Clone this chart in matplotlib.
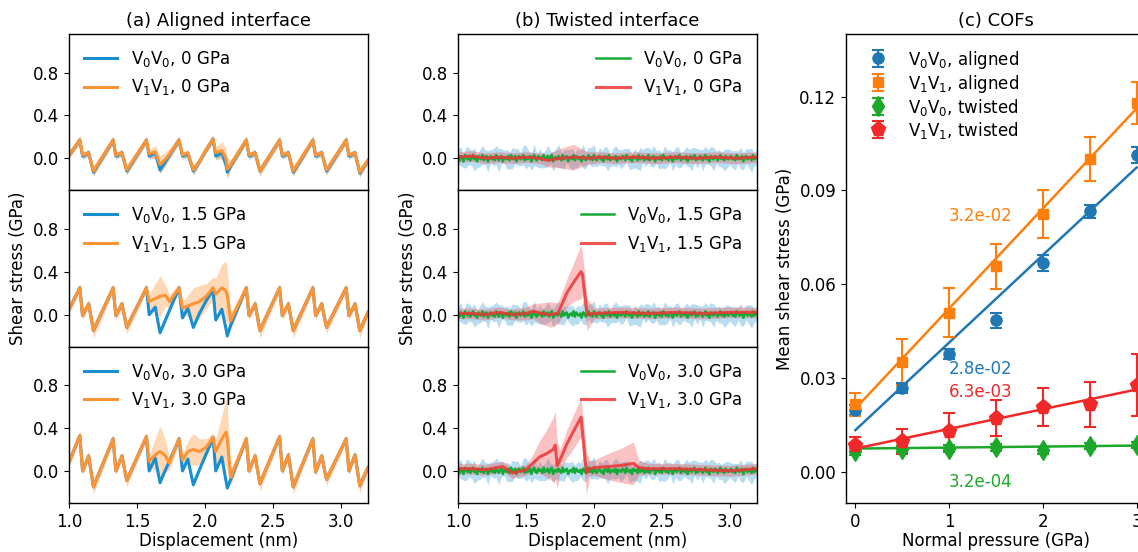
import numpy as np
import matplotlib.pyplot as plt

plt.rcParams["font.size"] = 12
plt.rcParams["axes.linewidth"] = 1.0

# ---------------- (a) aligned interface: trace vertices ----------------
disp_a = [1.00, 1.08, 1.10, 1.145, 1.18,
          1.325, 1.345, 1.39, 1.425,
          1.57, 1.59, 1.635, 1.67, 1.71, 1.74,
          1.81, 1.835, 1.875, 1.915, 1.96, 2.01,
          2.06, 2.08, 2.125, 2.155, 2.165, 2.19,
          2.305, 2.325, 2.37, 2.405,
          2.55, 2.57, 2.615, 2.65,
          2.795, 2.815, 2.86, 2.895,
          3.04, 3.06, 3.105, 3.14, 3.20]

pressure_labels = ["0", "1.5", "3.0"]

# V0V0 mean shear stress (GPa)
a_v0_p0 = [0.03, 0.17, 0.02, 0.05, -0.13,
           0.17, 0.02, 0.05, -0.12,
           0.17, 0.02, 0.05, -0.11, -0.03, 0.03,
           0.17, 0.02, 0.04, -0.12, -0.03, 0.08,
           0.18, 0.02, 0.05, -0.06, -0.13, -0.07,
           0.17, 0.02, 0.05, -0.12,
           0.17, 0.02, 0.05, -0.13,
           0.17, 0.02, 0.05, -0.12,
           0.17, 0.02, 0.05, -0.14, -0.02]
a_v0_p15 = [0.05, 0.25, -0.01, 0.10, -0.15,
            0.25, -0.01, 0.10, -0.12,
            0.25, 0.00, 0.07, -0.17, -0.05, 0.04,
            0.25, -0.03, 0.06, -0.12, 0.01, 0.13,
            0.23, -0.05, 0.05, -0.13, -0.20, -0.10,
            0.25, -0.01, 0.10, -0.15,
            0.25, -0.01, 0.10, -0.15,
            0.25, -0.01, 0.10, -0.12,
            0.25, -0.01, 0.10, -0.15, 0.02]
a_v0_p30 = [0.08, 0.33, 0.00, 0.14, -0.15,
            0.30, 0.00, 0.14, -0.09,
            0.32, 0.00, 0.12, -0.11, 0.01, 0.09,
            0.30, 0.00, 0.11, -0.13, 0.01, 0.16,
            0.31, 0.00, 0.13, -0.09, -0.16, -0.08,
            0.30, 0.00, 0.14, -0.12,
            0.32, 0.00, 0.15, -0.15,
            0.30, -0.01, 0.14, -0.08,
            0.30, 0.00, 0.15, -0.14, 0.03]
a_v0_std = [0.03, 0.02, 0.02]

# V1V1 mean shear stress (GPa) and its std
a_v1_p0 = [0.03, 0.17, 0.03, 0.05, -0.12,
           0.17, 0.03, 0.05, -0.11,
           0.17, 0.04, 0.06, -0.06, -0.01, 0.04,
           0.17, 0.03, 0.05, -0.11, -0.03, 0.08,
           0.18, 0.05, 0.07, 0.00, -0.10, -0.06,
           0.17, 0.03, 0.05, -0.12,
           0.17, 0.03, 0.05, -0.12,
           0.17, 0.03, 0.05, -0.11,
           0.17, 0.03, 0.05, -0.13, -0.02]
a_v1_p15 = [0.05, 0.25, -0.01, 0.10, -0.15,
            0.25, -0.01, 0.10, -0.12,
            0.25, 0.12, 0.15, 0.17, 0.18, 0.12,
            0.25, 0.06, 0.08, 0.10, 0.12, 0.17,
            0.25, 0.19, 0.25, 0.22, 0.18, -0.06,
            0.25, -0.01, 0.10, -0.15,
            0.25, -0.01, 0.10, -0.15,
            0.25, -0.01, 0.10, -0.12,
            0.25, -0.01, 0.10, -0.15, 0.02]
a_v1_p30 = [0.08, 0.33, 0.00, 0.14, -0.15,
            0.30, 0.00, 0.14, -0.09,
            0.32, 0.09, 0.15, 0.18, 0.14, 0.07,
            0.30, 0.10, 0.18, 0.20, 0.18, 0.22,
            0.31, 0.18, 0.30, 0.36, 0.30, -0.06,
            0.30, 0.00, 0.14, -0.12,
            0.32, 0.00, 0.15, -0.15,
            0.30, -0.01, 0.14, -0.08,
            0.30, 0.00, 0.15, -0.14, 0.03]
a_v1_std_p0 = [0.03, 0.04, 0.03, 0.03, 0.05,
               0.04, 0.03, 0.03, 0.05,
               0.04, 0.04, 0.06, 0.08, 0.07, 0.05,
               0.04, 0.03, 0.03, 0.05, 0.03, 0.03,
               0.04, 0.06, 0.08, 0.10, 0.10, 0.05,
               0.04, 0.03, 0.03, 0.05,
               0.04, 0.03, 0.03, 0.05,
               0.04, 0.03, 0.03, 0.05,
               0.04, 0.03, 0.03, 0.05, 0.03]
a_v1_std_p15 = [0.04, 0.04, 0.04, 0.04, 0.07,
                0.04, 0.04, 0.04, 0.06,
                0.04, 0.06, 0.14, 0.19, 0.10, 0.06,
                0.04, 0.06, 0.10, 0.15, 0.15, 0.12,
                0.10, 0.15, 0.22, 0.28, 0.25, 0.08,
                0.04, 0.04, 0.04, 0.07,
                0.04, 0.04, 0.04, 0.07,
                0.04, 0.04, 0.04, 0.06,
                0.04, 0.04, 0.04, 0.07, 0.04]
a_v1_std_p30 = [0.04, 0.04, 0.04, 0.04, 0.07,
                0.04, 0.04, 0.04, 0.06,
                0.04, 0.06, 0.15, 0.24, 0.15, 0.06,
                0.04, 0.05, 0.10, 0.15, 0.12, 0.08,
                0.05, 0.12, 0.22, 0.31, 0.30, 0.08,
                0.04, 0.04, 0.04, 0.07,
                0.04, 0.04, 0.04, 0.07,
                0.04, 0.04, 0.04, 0.06,
                0.04, 0.04, 0.04, 0.07, 0.04]

# ---------------- (b) twisted interface ----------------
# V0V0 mean (units of 0.01 GPa), sampled every 0.01 nm from 1.0 to 3.2
b_v0_mean = [1, -2, 2, 0, -3, 3, 1, -1, 2, -2, 0, 3, -1, 1, -3, 2, 0, -1, 3, -2,
             1, 2, -3, 0, 2, -1, 1, -2, 3, 0, -2, 1, 2, -3, 1, 0, -1, 2, -2, 3,
             0, -1, 2, -3, 1, 2, -1, 0, 3, -2, 1, -1, 0, 2, -3, 1, 3, -1, -2, 2,
             0, 1, -2, 3, -1, 0, 2, -2, 1, 3, -3, 0, 1, -1, 2, 0, -2, 3, -1, 1,
             2, -3, 0, 1, -1, 3, -2, 2, 0, -1, 1, -3, 2, 1, -2, 0, 3, -1, 1, -2,
             3, 0, -2, 1, 2, -1, 0, -3, 2, 1, -1, 3, -2, 0, 1, -1, 2, -3, 1, 0,
             -1, 2, 1, -2, 3, 0, -1, 1, -3, 2, 0, 1, -2, 3, -1, 0, 2, -2, 1, -1,
             3, -2, 0, 1, 2, -3, 1, 0, -1, 2, -2, 3, 1, -1, 0, -2, 2, 1, -3, 0,
             2, -1, 1, 3, -2, 0, 1, -1, 2, -3, 0, 2, -1, 1, 3, -2, 0, -1, 2, 1,
             -2, 0, 3, -1, 1, -3, 2, 0, -1, 2, 1, -2, 0, 3, -1, 1, -2, 2, 0, -1,
             1, 2, -1, 0, -2, 3, 1, -1, 0, 2, -3, 1, 2, -1, 0, 1, -2, 3, -1, 0,
             1]
# V0V0 std (units of 0.01 GPa), every 0.02 nm
b_v0_std = [7, 9, 6, 10, 8, 7, 11, 6, 8, 9, 7, 10, 6, 8, 9, 11, 7, 6, 9, 8,
            10, 7, 8, 6, 9, 11, 7, 8, 10, 6, 9, 7, 8, 10, 6, 9, 8, 11, 7, 9,
            6, 8, 10, 7, 9, 6, 11, 8, 7, 9, 10, 6, 8, 7, 9, 11, 6, 8, 10, 7,
            9, 8, 6, 10, 7, 9, 8, 11, 6, 9, 7, 8, 10, 6, 9, 7, 11, 8, 6, 9,
            8, 10, 7, 6, 9, 8, 11, 7, 9, 6, 10, 8, 7, 9, 11, 6, 8, 7, 10, 9,
            7, 8, 9, 6, 10, 8, 7, 9, 11, 6, 8]

# V1V1 mean and std (GPa)
b_v1_x_p0 = [1.0, 1.1, 1.2, 1.3, 1.4, 1.5, 1.6, 1.66, 1.75, 1.85, 1.95, 2.05,
             2.15, 2.3, 2.45, 2.6, 2.75, 2.9, 3.05, 3.2]
b_v1_p0 = [0.01, 0.02, 0.00, 0.01, 0.00, 0.01, 0.00, -0.02, 0.00, 0.01, 0.00, 0.01,
           0.00, 0.01, 0.00, 0.01, 0.00, 0.01, 0.00, 0.01]
b_v1_std_p0 = [0.05, 0.05, 0.05, 0.05, 0.05, 0.05, 0.05, 0.06, 0.09, 0.12, 0.06, 0.05,
               0.05, 0.05, 0.05, 0.05, 0.05, 0.05, 0.05, 0.05]

b_v1_x_p15 = [1.0, 1.1, 1.2, 1.3, 1.4, 1.5, 1.55, 1.62, 1.68, 1.735, 1.8, 1.85,
              1.905, 1.915, 1.95, 2.0, 2.2, 2.4, 2.6, 2.8, 3.0, 3.2]
b_v1_p15 = [0.01, 0.01, 0.00, 0.02, 0.00, 0.01, 0.03, 0.01, 0.00, 0.01, 0.20, 0.30,
            0.40, 0.38, 0.00, 0.01, 0.02, 0.01, 0.02, 0.01, 0.02, 0.02]
b_v1_std_p15 = [0.05, 0.05, 0.05, 0.05, 0.05, 0.06, 0.07, 0.10, 0.12, 0.10, 0.13, 0.18,
                0.25, 0.20, 0.15, 0.05, 0.05, 0.05, 0.05, 0.05, 0.05, 0.05]

b_v1_x_p30 = [1.0, 1.1, 1.2, 1.33, 1.4, 1.5, 1.55, 1.6, 1.65, 1.7, 1.715, 1.73,
              1.75, 1.8, 1.85, 1.905, 1.945, 1.97, 2.0, 2.1, 2.2, 2.29, 2.33,
              2.4, 2.6, 2.8, 3.0, 3.2]
b_v1_p30 = [0.02, 0.02, 0.01, 0.04, -0.02, 0.01, 0.07, 0.13, 0.16, 0.20, 0.24, 0.05,
            0.10, 0.25, 0.37, 0.50, -0.02, 0.02, 0.03, 0.04, 0.05, 0.07, 0.03,
            0.02, 0.02, 0.01, 0.00, 0.02]
b_v1_std_p30 = [0.05, 0.05, 0.05, 0.05, 0.05, 0.05, 0.08, 0.15, 0.22, 0.30, 0.32, 0.22,
                0.10, 0.13, 0.16, 0.18, 0.20, 0.07, 0.07, 0.12, 0.16, 0.20, 0.07,
                0.05, 0.05, 0.05, 0.05, 0.05]

# ---------------- (c) COFs ----------------
pressure_c = [0, 0.5, 1.0, 1.5, 2.0, 2.5, 3.0]
c_v0_aligned = [0.0197, 0.0268, 0.0375, 0.0484, 0.0667, 0.0833, 0.1012]
c_v0_aligned_err = [0.0015, 0.0016, 0.0016, 0.0024, 0.0025, 0.0021, 0.0026]
c_v1_aligned = [0.0215, 0.0351, 0.0509, 0.0657, 0.0824, 0.0999, 0.1180]
c_v1_aligned_err = [0.0037, 0.0075, 0.0078, 0.0072, 0.0077, 0.0070, 0.0067]
c_v0_twisted = [0.0065, 0.0072, 0.0074, 0.0078, 0.0068, 0.0082, 0.0085]
c_v0_twisted_err = [0.0012, 0.0010, 0.0012, 0.0012, 0.0012, 0.0010, 0.0010]
c_v1_twisted = [0.0087, 0.0097, 0.0129, 0.0172, 0.0206, 0.0215, 0.0277]
c_v1_twisted_err = [0.0023, 0.0039, 0.0058, 0.0058, 0.0061, 0.0072, 0.0099]
fit_slope = [2.8e-2, 3.2e-2, 3.2e-4, 6.3e-3]
fit_intercept = [0.0133, 0.0202, 0.0074, 0.0074]

BLUE = "#1a8fd0"
ORANGE = "#ff7f0e"
ORANGE_LINE = "#fd9435"
GREEN = "#14aa38"
RED = "#f03535"
C_BLUE, C_ORANGE, C_GREEN, C_RED = "#1f77b4", "#ff7f0e", "#1ca82a", "#f02828"

fig = plt.figure(figsize=(11.38, 5.52), dpi=100)
w = 0.2627
bottom, top = 0.0888, 0.9384
h = (top - bottom) / 3
ax_a = [fig.add_axes([0.0606, bottom + (2 - i) * h, w, h]) for i in range(3)]
ax_b = [fig.add_axes([0.4025, bottom + (2 - i) * h, w, h]) for i in range(3)]
ax_c = fig.add_axes([0.7434, bottom, 0.2636, top - bottom])

# (a)
xa = np.array(disp_a)
a_v0 = [a_v0_p0, a_v0_p15, a_v0_p30]
a_v1 = [a_v1_p0, a_v1_p15, a_v1_p30]
a_v1_std = [a_v1_std_p0, a_v1_std_p15, a_v1_std_p30]
for i, ax in enumerate(ax_a):
    v0 = np.array(a_v0[i])
    v1 = np.array(a_v1[i])
    s1 = np.array(a_v1_std[i])
    ax.fill_between(xa, v0 - a_v0_std[i], v0 + a_v0_std[i], color=BLUE, alpha=0.35, lw=0)
    ax.plot(xa, v0, color=BLUE, lw=2.2, label=f"V$_0$V$_0$, {pressure_labels[i]} GPa")
    ax.fill_between(xa, v1 - s1, v1 + s1, color=ORANGE, alpha=0.3, lw=0)
    ax.plot(xa, v1, color=ORANGE_LINE, lw=2.2, label=f"V$_1$V$_1$, {pressure_labels[i]} GPa")
    ax.legend(loc="upper left", frameon=False)

# (b)
xb = np.linspace(1.0, 3.2, len(b_v0_mean))
g = np.array(b_v0_mean) / 100
gs = np.array(b_v0_std) / 100
b_x = [b_v1_x_p0, b_v1_x_p15, b_v1_x_p30]
b_v1 = [b_v1_p0, b_v1_p15, b_v1_p30]
b_v1_std = [b_v1_std_p0, b_v1_std_p15, b_v1_std_p30]
for i, ax in enumerate(ax_b):
    rx = np.array(b_x[i])
    r = np.array(b_v1[i])
    rs = np.array(b_v1_std[i])
    ax.fill_between(xb[::2], g[::2] - gs, g[::2] + gs, color=BLUE, alpha=0.3, lw=0)
    ax.fill_between(rx, r - rs, r + rs, color=RED, alpha=0.3, lw=0)
    ax.plot(xb, g, color=GREEN, lw=1.8, label=f"V$_0$V$_0$, {pressure_labels[i]} GPa")
    ax.plot(rx, r, color=RED, lw=2.2, alpha=0.85, label=f"V$_1$V$_1$, {pressure_labels[i]} GPa")
    ax.legend(loc="upper right", frameon=False)

for axes in (ax_a, ax_b):
    for i, ax in enumerate(axes):
        ax.set_xlim(1.0, 3.2)
        ax.set_ylim(-0.3, 1.16)
        ax.set_yticks([0.0, 0.4, 0.8])
        ax.set_xticks([1.0, 1.5, 2.0, 2.5, 3.0])
        if i < 2:
            ax.tick_params(labelbottom=False)
    axes[1].set_ylabel("Shear stress (GPa)")
    axes[2].set_xlabel("Displacement (nm)", labelpad=1)
ax_a[0].set_title("(a) Aligned interface", fontsize=13)
ax_b[0].set_title("(b) Twisted interface", fontsize=13)

# (c)
series = [(c_v0_aligned, c_v0_aligned_err, C_BLUE, "o", 8, "V$_0$V$_0$, aligned"),
          (c_v1_aligned, c_v1_aligned_err, C_ORANGE, "s", 7.5, "V$_1$V$_1$, aligned"),
          (c_v0_twisted, c_v0_twisted_err, C_GREEN, "d", 10, "V$_0$V$_0$, twisted"),
          (c_v1_twisted, c_v1_twisted_err, C_RED, "p", 11, "V$_1$V$_1$, twisted")]
px = np.array(pressure_c)
for (y, e, col, m, ms, lab), k, b in zip(series, fit_slope, fit_intercept):
    ax_c.errorbar(px, y, yerr=e, fmt=m, color=col, ms=ms,
                  capsize=4, elinewidth=1.5, capthick=1.5, label=lab)
    ax_c.plot([0, 3], [b, b + 3 * k], color=col, lw=1.8)

ax_c.text(1.0, 0.0818, f"{fit_slope[1]:.1e}", color=C_ORANGE, va="center")
ax_c.text(1.0, 0.0327, f"{fit_slope[0]:.1e}", color=C_BLUE, va="center")
ax_c.text(1.0, 0.0256, f"{fit_slope[3]:.1e}", color=C_RED, va="center")
ax_c.text(1.0, -0.0034, f"{fit_slope[2]:.1e}", color=C_GREEN, va="center")

ax_c.set_xlim(-0.1, 3.1)
ax_c.set_ylim(-0.01, 0.14)
ax_c.set_xticks([0, 1, 2, 3])
ax_c.set_yticks([0.0, 0.03, 0.06, 0.09, 0.12])
ax_c.yaxis.set_major_formatter(plt.FormatStrFormatter("%.2f"))
ax_c.set_xlabel("Normal pressure (GPa)", labelpad=1)
ax_c.set_ylabel("Mean shear stress (GPa)")
ax_c.set_title("(c) COFs", fontsize=13)
ax_c.legend(loc="upper left", frameon=False, labelspacing=0.12, handleheight=1.0)

fig.savefig("out.png", dpi=100)
